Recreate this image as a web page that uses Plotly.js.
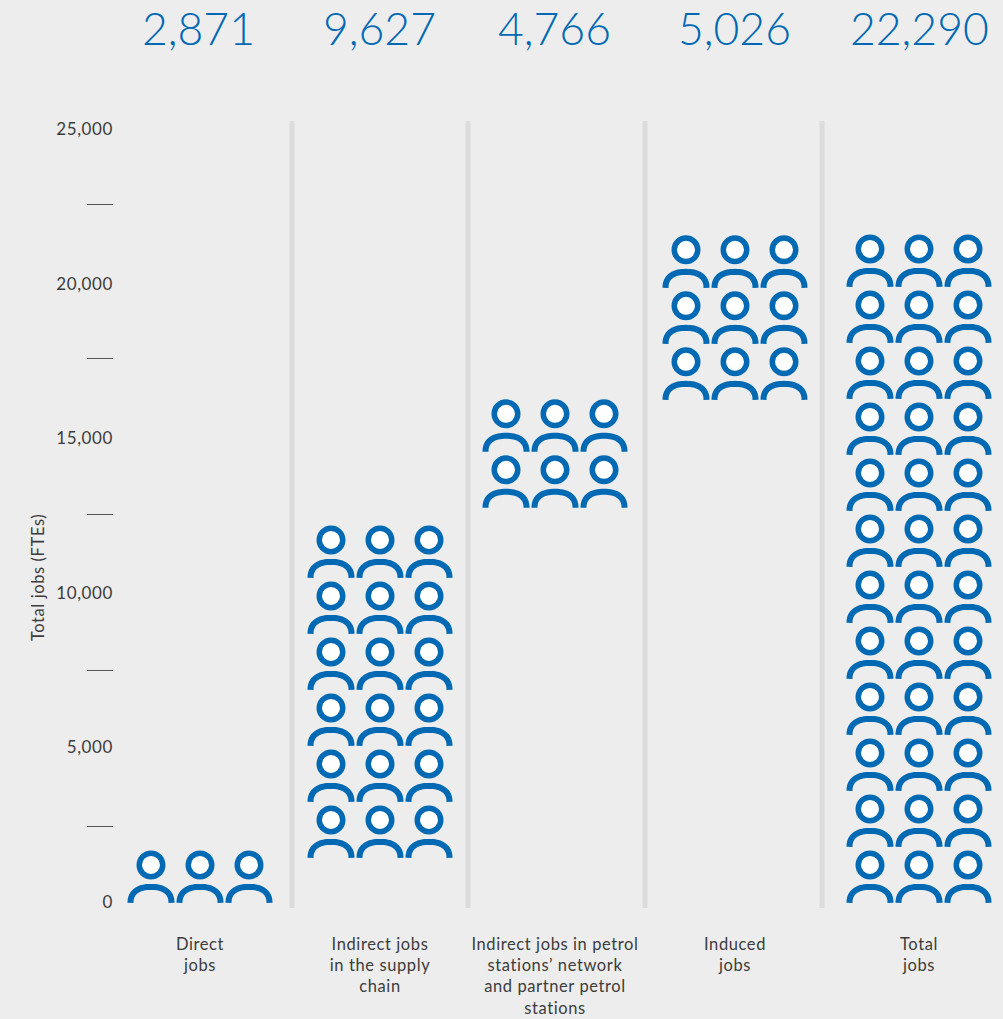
<!DOCTYPE html>
<html><head><meta charset="utf-8">
<script src="https://cdn.plot.ly/plotly-3.0.1.min.js"></script>
<style>html,body{margin:0;padding:0;background:#ededed}
.xtick text,.ytick text,.annotation-text.spaced{letter-spacing:.6px}
</style></head>
<body><div id="chart" style="width:1003px;height:1019px"></div>
<script>
// ---- data ----
const categories = ["Direct<br>jobs","Indirect jobs<br>in the supply<br>chain","Indirect jobs in petrol<br>stations’ network<br>and partner petrol<br>stations","Induced<br>jobs","Total<br>jobs"];
const jobTotals = [2871, 9627, 4766, 5026, 22290];
const iconRows = [1, 6, 2, 3, 12];
const iconBase = [-30, 1425, 12750, 16240, -30];
const yTicks = [0, 5000, 10000, 15000, 20000, 25000];
const yTickLabels = ["0","5,000","10,000","15,000","20,000","25,000"];
const yMinorTicks = [2435, 7500, 12530, 17565, 22565];

// ---- layout constants ----
const W=1003,H=1019,L=114,T=121,B=908;
const Y0=902,Y25=129, pxPerJob=(Y0-Y25)/25000;
const centres=[200,380,555,735,919], dividers=[292,468,645,822];
const totalCentres=[198,379.5,554.5,734.5,919];
const colPitch=49,rowPitch=56/pxPerJob;
const headUp=38/pxPerJob, blue="#0069b4", ink="#3c3c3c";
const jobsPx=p=>p/pxPerJob;

// body outline relative to icon foot (pixels)
const body=[];
const rx=20.5,ry=16;
for(let a=0;a<=40;a++){const t=Math.PI*a/40;
  const c=Math.cos(t),s=Math.sin(t);
  const e=0.85;
  body.push([rx*Math.sign(c)*Math.pow(Math.abs(c),e),ry*Math.pow(s,e)]);
}

const traces=[];
categories.forEach((cat,i)=>{
  const hx=[],hy=[],bx=[],by=[];
  for(let r=0;r<iconRows[i];r++){
    for(let c=-1;c<=1;c++){
      const cx=centres[i]+c*colPitch, foot=iconBase[i]+r*rowPitch;
      hx.push(cx);hy.push(foot+headUp);
      body.forEach(q=>{bx.push(cx+q[0]);by.push(foot+jobsPx(q[1]));});
      bx.push(null);by.push(null);
    }
  }
  traces.push({type:"scatter",mode:"lines",x:bx,y:by,hoverinfo:"skip",showlegend:false,connectgaps:false,cliponaxis:false,
    line:{color:blue,width:6,simplify:false}});
  traces.push({type:"scatter",mode:"markers",x:hx,y:hy,hoverinfo:"skip",showlegend:false,cliponaxis:false,
    marker:{symbol:"circle",size:23.5,color:"#ffffff",line:{color:blue,width:5.5}}});
});

const paperY=p=>(B-p)/(B-T);
const annotations=jobTotals.map((v,i)=>({
  text:v.toLocaleString("en-US"),x:totalCentres[i],xref:"x",y:paperY(28),yref:"paper",
  showarrow:false,xanchor:"center",yanchor:"middle",
  font:{family:"Lato",size:44.5,color:blue,weight:300}
}));
annotations.push({text:"Total jobs (FTEs)",textangle:-90,xref:"paper",x:(38-L)/(W-L),yref:"paper",y:paperY(578),
  showarrow:false,xanchor:"center",yanchor:"middle",font:{family:"Lato",size:16.5,color:ink}});

const shapes=dividers.map(x=>({type:"line",xref:"x",yref:"paper",x0:x,x1:x,y0:0,y1:1,layer:"below",line:{color:"#dcdcdc",width:5}}));

Plotly.newPlot("chart",traces,{
  width:W,height:H,paper_bgcolor:"#ededed",plot_bgcolor:"#ededed",showlegend:false,
  margin:{l:L,r:0,t:T,b:H-B,pad:0},
  font:{family:"Lato",color:ink,size:16.5},
  xaxis:{range:[L,W],tickmode:"array",tickvals:centres,ticktext:categories,tickangle:0,ticks:"",showgrid:false,zeroline:false,showline:false,
    ticklabelstandoff:24,tickfont:{family:"Lato",size:16.5,color:ink}},
  yaxis:{range:[(Y0-B)/pxPerJob,(Y0-T)/pxPerJob],tickmode:"array",tickvals:yTicks,ticktext:yTickLabels,ticks:"",showgrid:false,zeroline:false,showline:false,
    tickfont:{family:"Lato",size:17,color:ink},
    minor:{tickmode:"array",tickvals:yMinorTicks,ticks:"outside",ticklen:26,tickwidth:1,tickcolor:"#555555",showgrid:false}},
  annotations,shapes
},{displayModeBar:false,staticPlot:true}).then(()=>{
  const t=document.querySelectorAll(".annotation text");
  if(t.length) t[t.length-1].style.letterSpacing=".6px";
});
</script></body></html>
